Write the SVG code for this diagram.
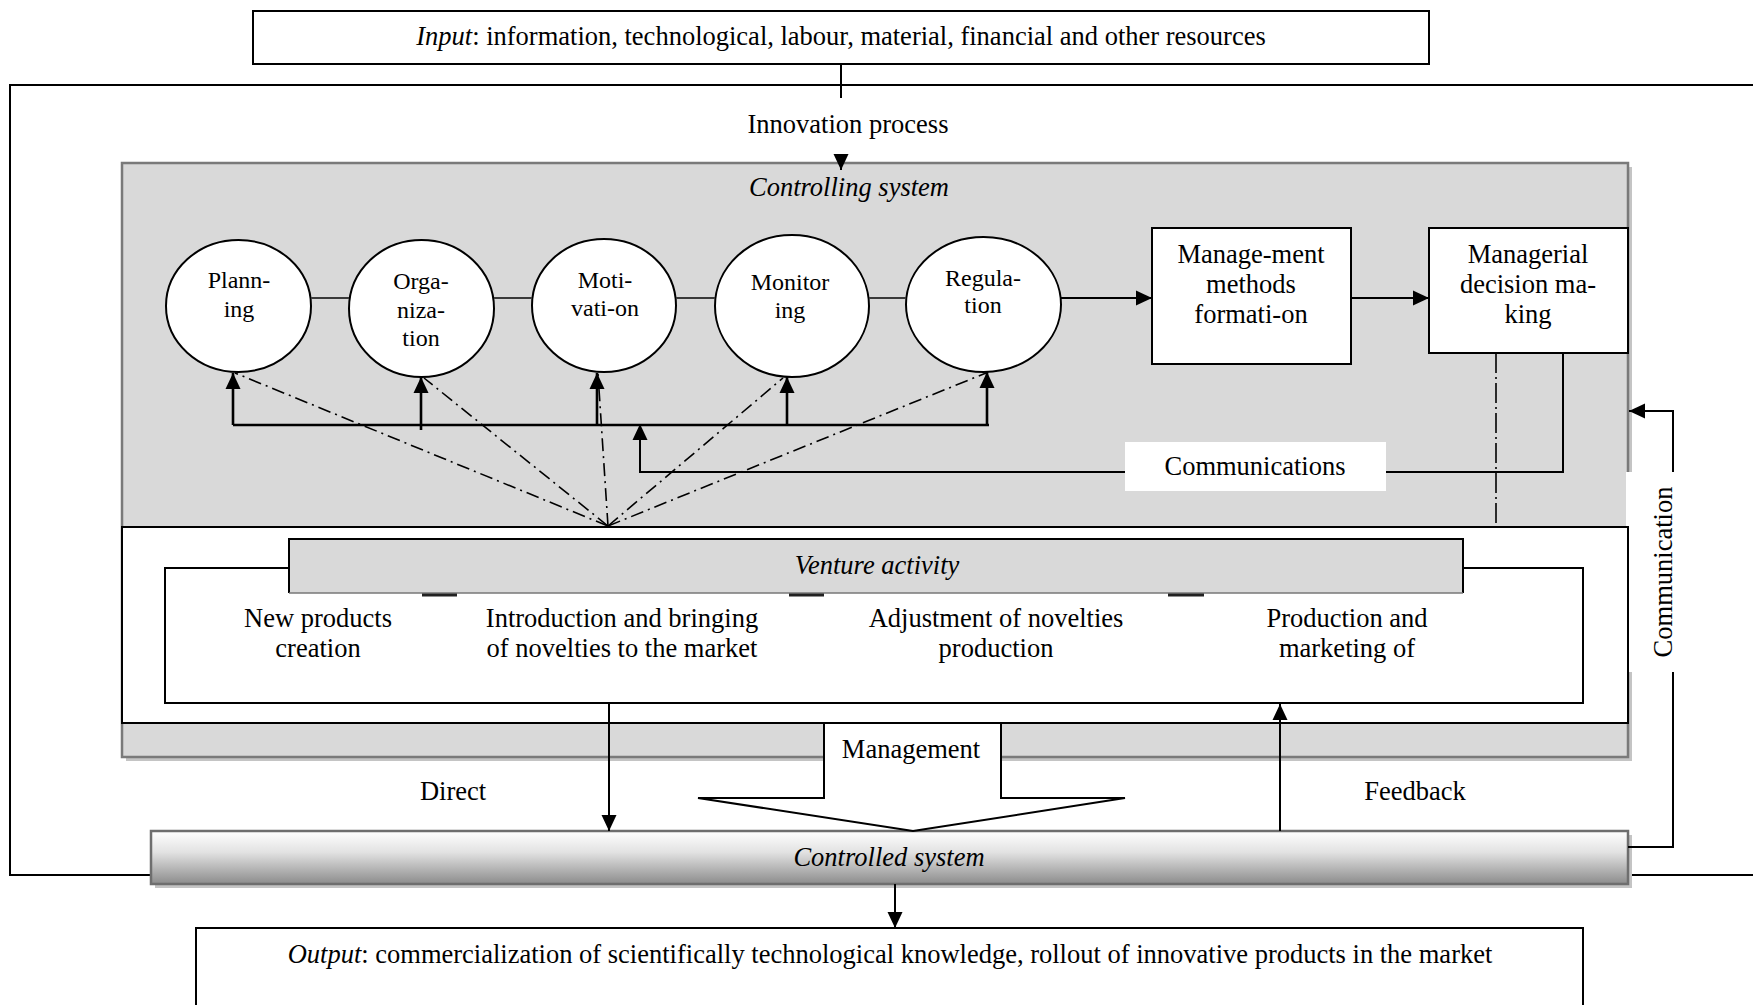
<svg xmlns="http://www.w3.org/2000/svg" width="1753" height="1005" viewBox="0 0 1753 1005">
  <style>
    text { font-family: "Liberation Serif", "Times New Roman", serif; font-size: 26.5px; fill: #000; text-anchor: middle; }
    .it { font-style: italic; }
    .sm { font-size: 24px; }
    .box { fill: #fff; stroke: #000; stroke-width: 2; }
    .grey { fill: #d9d9d9; }
    .shadow { fill: #c4c4c4; }
    .oval { fill: #fff; stroke: #000; stroke-width: 2; }
    .ln { fill: none; stroke: #000; stroke-width: 2; }
    .thick { fill: none; stroke: #000; stroke-width: 2.6; }
    .link { fill: none; stroke: #3a3a3a; stroke-width: 2; }
    .dd { fill: none; stroke: #000; stroke-width: 1.6; stroke-dasharray: 13 5 2 5; }
    .ddv { fill: none; stroke: #000; stroke-width: 1.6; stroke-dasharray: 20 4 2 4; }
  </style>
  <defs>
    <marker id="arr" viewBox="0 0 16 16" refX="16" refY="8" markerWidth="16" markerHeight="16" orient="auto" markerUnits="userSpaceOnUse">
      <path d="M0,0.5 L16,8 L0,15.5 z" fill="#000"/>
    </marker>
    <linearGradient id="ctrlGrad" x1="0" y1="0" x2="0" y2="1">
      <stop offset="0" stop-color="#ffffff"/>
      <stop offset="0.4" stop-color="#e2e2e2"/>
      <stop offset="1" stop-color="#8c8c8c"/>
    </linearGradient>
  </defs>

  <rect width="1753" height="1005" fill="#fff"/>

  <!-- outer frame of the innovation process -->
  <g id="frame">
    <path d="M1753,85 H10 V875 H151" class="ln"/>
    <path d="M1628,875 H1753" class="ln"/>
  </g>

  <!-- input -->
  <g id="input">
    <rect x="253" y="11" width="1176" height="53" class="box"/>
    <text x="841" y="45"><tspan class="it">Input</tspan>: information, technological, labour, material, financial and other resources</text>
  </g>

  <g id="innovation-label">
    <text x="848" y="133">Innovation process</text>
  </g>

  <!-- controlling system container -->
  <g id="controlling-system">
    <rect x="126" y="167" width="1506" height="594" class="shadow"/>
    <rect x="122" y="163" width="1506" height="594" class="grey" stroke="#7a7a7a" stroke-width="2.5"/>
    <text x="849" y="196" class="it">Controlling system</text>
  </g>

  <!-- label background of the side communication loop -->
  <rect x="1626" y="472" width="74" height="200" fill="#fff"/>

  <!-- venture activity block -->
  <g id="venture">
    <rect x="122" y="527" width="1506" height="196" class="box"/>
    <rect x="165" y="568" width="1418" height="135" class="box"/>
    <rect x="289" y="539" width="1174" height="54" class="grey"/>
    <path d="M289,593 V539 H1463 V593" class="ln"/>
    <path d="M289,593 H1463" fill="none" stroke="#777" stroke-width="1.5"/>
    <path d="M422,595 H457 M789,595 H824 M1168,595 H1204" fill="none" stroke="#222" stroke-width="3"/>
    <text x="877" y="574" class="it">Venture activity</text>
    <text x="318" y="627">New products</text>
    <text x="318" y="657">creation</text>
    <text x="622" y="627">Introduction and bringing</text>
    <text x="622" y="657">of novelties to the market</text>
    <text x="996" y="627">Adjustment of novelties</text>
    <text x="996" y="657">production</text>
    <text x="1347" y="627">Production and</text>
    <text x="1347" y="657">marketing of</text>
  </g>

  <!-- management functions -->
  <g id="planning">
    <ellipse cx="238.5" cy="306" rx="72.5" ry="66" class="oval"/>
    <text x="239" y="288" class="sm">Plann-</text>
    <text x="239" y="317" class="sm">ing</text>
  </g>
  <g id="organization">
    <ellipse cx="421.5" cy="308.5" rx="72.5" ry="68.5" class="oval"/>
    <text x="421" y="289" class="sm">Orga-</text>
    <text x="421" y="318" class="sm">niza-</text>
    <text x="421" y="346" class="sm">tion</text>
  </g>
  <g id="motivation">
    <ellipse cx="604" cy="305.5" rx="72" ry="66.5" class="oval"/>
    <text x="605" y="288" class="sm">Moti-</text>
    <text x="605" y="316" class="sm">vati-on</text>
  </g>
  <g id="monitoring">
    <ellipse cx="792" cy="306" rx="77" ry="71" class="oval"/>
    <text x="790" y="290" class="sm">Monitor</text>
    <text x="790" y="318" class="sm">ing</text>
  </g>
  <g id="regulation">
    <ellipse cx="983.5" cy="304.5" rx="77.5" ry="67.5" class="oval"/>
    <text x="983" y="286" class="sm">Regula-</text>
    <text x="983" y="313" class="sm">tion</text>
  </g>

  <g id="methods">
    <rect x="1152" y="228" width="199" height="136" class="box"/>
    <text x="1251" y="263">Manage-ment</text>
    <text x="1251" y="293">methods</text>
    <text x="1251" y="323">formati-on</text>
  </g>
  <g id="decision">
    <rect x="1429" y="228" width="199" height="125" class="box"/>
    <text x="1528" y="263">Managerial</text>
    <text x="1528" y="293">decision ma-</text>
    <text x="1528" y="323">king</text>
  </g>

  <!-- controlled system -->
  <g id="controlled-system">
    <rect x="155" y="835" width="1477" height="53" class="shadow"/>
    <rect x="151" y="831" width="1477" height="53" fill="url(#ctrlGrad)" stroke="#6e6e6e" stroke-width="2.5"/>
    <text x="889" y="866" class="it">Controlled system</text>
  </g>

  <!-- output -->
  <g id="output">
    <rect x="196" y="928" width="1387" height="90" class="box"/>
    <text x="890" y="963"><tspan class="it">Output</tspan>: commercialization of scientifically technological knowledge, rollout of innovative products in the market</text>
  </g>

  <!-- management arrow -->
  <g id="management">
    <path d="M824,724 V798 H698 L913,831 L1125,798 H1001 V724" fill="#fff" stroke="#000" stroke-width="2"/>
    <text x="911" y="758">Management</text>
  </g>

  <g id="connectors">
    <!-- input to controlling system -->
    <path d="M841,64 V98" class="ln"/>
    <path d="M841,156 V170" class="ln" marker-end="url(#arr)"/>

    <!-- links between functions -->
    <path d="M311,298 H349 M494,298 H532 M676,298 H715 M869,298 H906" class="link"/>

    <!-- function chain to methods and decisions -->
    <path d="M1061,298 H1152" class="ln" marker-end="url(#arr)"/>
    <path d="M1351,298 H1429" class="ln" marker-end="url(#arr)"/>

    <!-- distribution bus to the functions -->
    <path d="M233,425 H989" class="thick"/>
    <path d="M233,425 V373" class="thick" marker-end="url(#arr)"/>
    <path d="M421,430 V377" class="thick" marker-end="url(#arr)"/>
    <path d="M597,425 V373" class="thick" marker-end="url(#arr)"/>
    <path d="M787,425 V377" class="thick" marker-end="url(#arr)"/>
    <path d="M987,425 V372" class="thick" marker-end="url(#arr)"/>

    <!-- communications loop from decisions -->
    <path d="M1563,353 V472 H1386" class="ln"/>
    <path d="M1125,472 H640 V424" class="ln" marker-end="url(#arr)"/>

    <!-- influence of venture activity on functions -->
    <path d="M608,526 L235,373" class="dd"/>
    <path d="M608,526 L424,378" class="dd"/>
    <path d="M608,526 L598,374" class="dd"/>
    <path d="M608,526 L783,378" class="dd"/>
    <path d="M608,526 L986,373" class="dd"/>
    <path d="M1496,353 V527" class="ddv"/>

    <!-- direct and feedback -->
    <path d="M609,704 V831" class="ln" marker-end="url(#arr)"/>
    <path d="M1280,831 V704" class="ln" marker-end="url(#arr)"/>
    <text x="453" y="800">Direct</text>
    <text x="1415" y="800">Feedback</text>

    <!-- controlled system to output -->
    <path d="M895,884 V928" class="ln" marker-end="url(#arr)"/>

    <!-- communication loop back to the controlling system -->
    <path d="M1628,847 H1673 V672" class="ln"/>
    <path d="M1673,472 V411 H1629" class="ln" marker-end="url(#arr)"/>
    <text transform="translate(1672,572) rotate(-90)">Communication</text>

    <!-- communications label -->
    <rect x="1125" y="442" width="261" height="49" fill="#fff"/>
    <text x="1255" y="475">Communications</text>
  </g>
</svg>
